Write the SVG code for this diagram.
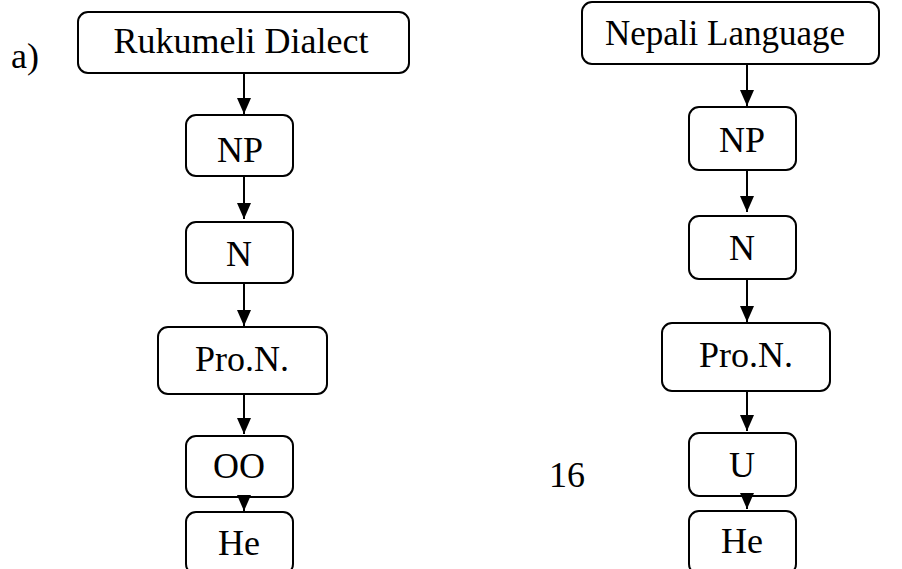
<svg xmlns="http://www.w3.org/2000/svg" width="902" height="569" viewBox="0 0 902 569">
  <style>
    .box { fill: #ffffff; stroke: #000000; stroke-width: 2; }
    text { fill: #000000; }
    .lbl { text-anchor: middle; }
    .edge { stroke: #000000; stroke-width: 2; fill: none; marker-end: url(#arrow); }
  </style>
  <defs>
    <marker id="arrow" viewBox="0 0 16 14" refX="16" refY="7" markerWidth="16" markerHeight="14" markerUnits="userSpaceOnUse" orient="auto">
      <path d="M0,0 L16,7 L0,14 z" fill="#000000"/>
    </marker>
  </defs>
  <rect width="902" height="569" fill="#ffffff"/>

  <g font-family="'Liberation Serif', 'DejaVu Serif', serif" font-size="36">
    <text x="11" y="68">a)</text>
    <text x="549" y="487">16</text>

    <!-- left chain: Rukumeli Dialect -->
    <g id="ruk-root">
      <rect class="box" x="78" y="12" width="331" height="61" rx="10"/>
      <text class="lbl" x="241" y="53">Rukumeli Dialect</text>
    </g>
    <g id="ruk-np">
      <rect class="box" x="186" y="115" width="107" height="61" rx="10"/>
      <text class="lbl" x="240" y="162">NP</text>
    </g>
    <g id="ruk-n">
      <rect class="box" x="186" y="222" width="107" height="61" rx="10"/>
      <text class="lbl" x="239" y="266">N</text>
    </g>
    <g id="ruk-pron">
      <rect class="box" x="158" y="327" width="169" height="67" rx="10"/>
      <text class="lbl" x="242" y="371">Pro.N.</text>
    </g>
    <g id="ruk-oo">
      <rect class="box" x="186" y="436" width="107" height="61" rx="10"/>
      <text class="lbl" x="239" y="478">OO</text>
    </g>
    <g id="ruk-he">
      <rect class="box" x="186" y="512" width="107" height="62" rx="10"/>
      <text class="lbl" x="239" y="555">He</text>
    </g>

    <!-- right chain: Nepali Language -->
    <g id="nep-root">
      <rect class="box" x="582" y="2" width="297" height="62" rx="10"/>
      <text x="605" y="45" font-size="35">Nepali Language</text>
    </g>
    <g id="nep-np">
      <rect class="box" x="689" y="107" width="107" height="63" rx="10"/>
      <text class="lbl" x="742" y="152">NP</text>
    </g>
    <g id="nep-n">
      <rect class="box" x="689" y="216" width="107" height="63" rx="10"/>
      <text class="lbl" x="742" y="260">N</text>
    </g>
    <g id="nep-pron">
      <rect class="box" x="662" y="323" width="168" height="68" rx="10"/>
      <text class="lbl" x="746" y="367">Pro.N.</text>
    </g>
    <g id="nep-u">
      <rect class="box" x="689" y="433" width="107" height="63" rx="10"/>
      <text class="lbl" x="742" y="477">U</text>
    </g>
    <g id="nep-he">
      <rect class="box" x="689" y="511" width="107" height="63" rx="10"/>
      <text class="lbl" x="742" y="553">He</text>
    </g>
  </g>

  <!-- connectors -->
  <g id="connectors">
    <line class="edge" x1="244" y1="73" x2="244" y2="114"/>
    <line class="edge" x1="244" y1="176" x2="244" y2="219"/>
    <line class="edge" x1="244" y1="283" x2="244" y2="326"/>
    <line class="edge" x1="244" y1="394" x2="244" y2="434"/>
    <line class="edge" x1="244" y1="497" x2="244" y2="511"/>

    <line class="edge" x1="747" y1="64" x2="747" y2="106"/>
    <line class="edge" x1="747" y1="170" x2="747" y2="212"/>
    <line class="edge" x1="747" y1="279" x2="747" y2="322"/>
    <line class="edge" x1="747" y1="391" x2="747" y2="431"/>
    <line class="edge" x1="747" y1="496" x2="747" y2="509"/>
  </g>
</svg>
